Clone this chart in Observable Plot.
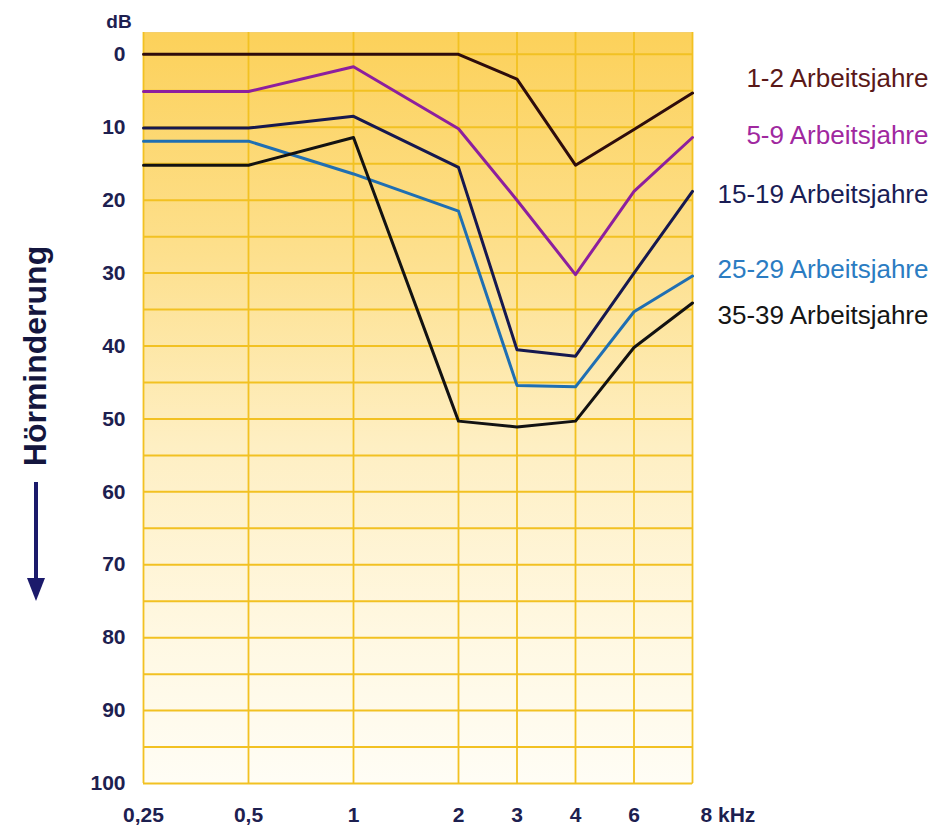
<!DOCTYPE html>
<html><head><meta charset="utf-8">
<script src="https://cdn.jsdelivr.net/npm/d3@7"></script>
<script src="https://cdn.jsdelivr.net/npm/@observablehq/plot@0.6"></script>
<style>body{margin:0;background:#fff;font-family:"Liberation Sans",Arial,sans-serif}</style>
</head><body><div id="chart"></div>
<script>
// Frequencies (kHz) and tick labels
const freqs = [0.25, 0.5, 1, 2, 3, 4, 6, 8];
const tickLabels = ["0,25", "0,5", "1", "2", "3", "4", "6", "8 kHz"];
const dbTicks = [0, 10, 20, 30, 40, 50, 60, 70, 80, 90, 100];
const gridDb = [0, 5, 10, 15, 20, 25, 30, 35, 40, 45, 50, 55, 60, 65, 70, 75, 80, 85, 90, 95, 100];

// Series (hearing loss in dB)
const seriesNames = ["1-2 Arbeitsjahre", "5-9 Arbeitsjahre", "15-19 Arbeitsjahre", "25-29 Arbeitsjahre", "35-39 Arbeitsjahre"];
const y1_2   = [0, 0, 0, 0, 3.4, 15.2, 10.3, 5.3];
const y5_9   = [5.1, 5.1, 1.7, 10.2, 20, 30.2, 18.8, 11.4];
const y15_19 = [10.1, 10.1, 8.5, 15.5, 40.5, 41.4, 30, 18.8];
const y25_29 = [11.9, 11.9, 16.4, 21.5, 45.4, 45.6, 35.3, 30.4];
const y35_39 = [15.2, 15.2, 11.4, 50.3, 51.1, 50.3, 40.2, 34.1];
const labelDb = [3.4, 11.2, 19.2, 29.5, 35.8];

const lineColors = ["#2e0c0c", "#8d1f9e", "#16184f", "#1f6fb3", "#121212"];
const labelColors = ["#5a1818", "#a0289f", "#1a1d55", "#2b7cc2", "#151515"];

const series = [y1_2, y5_9, y15_19, y25_29, y35_39];
const rows = [];
series.forEach((s, i) => s.forEach((v, j) => rows.push({name: seriesNames[i], f: freqs[j], db: v, color: lineColors[i]})));
const labelRows = seriesNames.map((n, i) => ({name: n, f: freqs[freqs.length - 1], db: labelDb[i], color: labelColors[i]}));

// x layout: audiogram spacing (octaves 0.25..2 at 105 units, half steps 2..8 at ~58.5 units)
const axisUnits = [0, 105, 210, 315, 373.5, 432, 490.5, 549];
const freqToUnit = d3.scaleLinear().domain(freqs).range(axisUnits);
const gold = "#f2c122";
const navy = "#1d2050";

const plot = Plot.plot({
  width: 947, height: 828,
  marginLeft: 143, marginRight: 255, marginTop: 32, marginBottom: 45,
  x: {type: "linear", transform: f => freqToUnit(f), domain: [0, 549]},
  y: {domain: [-3, 100], range: [32, 783]},
  style: {fontFamily: "'Liberation Sans', Arial, sans-serif", background: "transparent", overflow: "visible"},
  marks: [
    Plot.frame({fill: "url(#bg)", stroke: "#f5cf6a", strokeWidth: 1}),
    Plot.gridY(gridDb, {stroke: gold, strokeOpacity: 1, strokeWidth: 2}),
    Plot.gridX(freqs, {stroke: gold, strokeOpacity: 1, strokeWidth: 1.8}),
    Plot.line(rows, {x: "f", y: "db", z: "name", stroke: "color", strokeWidth: 3}),
    Plot.axisY(dbTicks, {tickSize: 0, tickPadding: 18, fontSize: 21, fontWeight: "bold", fill: navy, label: null}),
    Plot.axisX(freqs.slice(0, -1), {tickSize: 0, tickPadding: 24, fontSize: 21, fontWeight: "bold", fill: navy, label: null,
      tickFormat: d => tickLabels[freqs.indexOf(d)]}),
    Plot.axisX(freqs.slice(-1), {tickSize: 0, tickPadding: 24, fontSize: 21, fontWeight: "bold", fill: navy, label: null,
      textAnchor: "start", dx: 8, tickFormat: d => tickLabels[freqs.indexOf(d)]}),
    Plot.text(labelRows, {x: "f", y: "db", text: "name", fill: "color", textAnchor: "end", dx: 236, fontSize: 26})
  ]
});

const svg = d3.select(plot);
svg.insert("defs", ":first-child").html(`
  <linearGradient id="bg" x1="0" y1="0" x2="0" y2="1">
    <stop offset="0" stop-color="#fcd15a"/>
    <stop offset="0.3" stop-color="#fde08e"/>
    <stop offset="0.55" stop-color="#feefc3"/>
    <stop offset="0.8" stop-color="#fff8e2"/>
    <stop offset="1" stop-color="#fffdf5"/>
  </linearGradient>`);

svg.append("text").attr("x", 119).attr("y", 21).attr("text-anchor", "middle").attr("dominant-baseline", "central")
  .attr("font-size", 19).attr("font-weight", "bold").attr("fill", navy).text("dB");

svg.append("text").attr("transform", "translate(35,356) rotate(-90)").attr("text-anchor", "middle")
  .attr("dominant-baseline", "central").attr("font-size", 32).attr("font-weight", "bold").attr("fill", "#14163e")
  .text("Hörminderung");
svg.append("line").attr("x1", 36).attr("x2", 36).attr("y1", 482).attr("y2", 582)
  .attr("stroke", "#1b1a6b").attr("stroke-width", 4);
svg.append("path").attr("d", "M27,578 L45,578 L36,601 Z").attr("fill", "#1b1a6b");

document.getElementById("chart").appendChild(plot);
</script></body></html>
